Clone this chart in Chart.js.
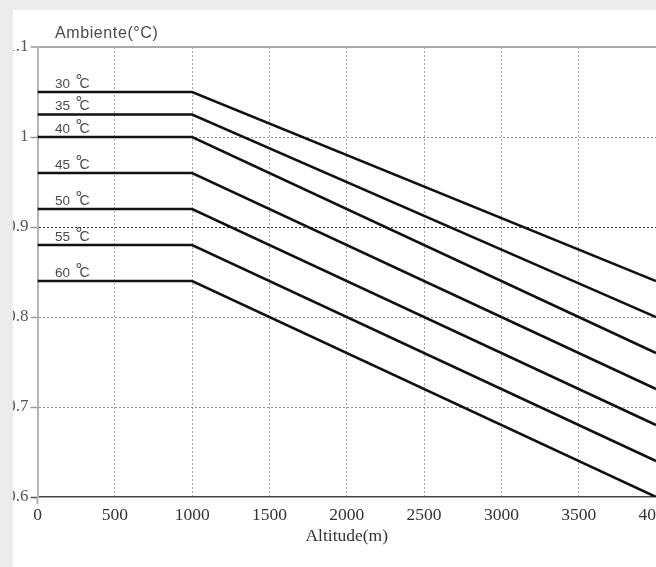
<!DOCTYPE html>
<html>
<head>
<meta charset="utf-8">
<script src="https://cdn.jsdelivr.net/npm/chart.js@4/dist/chart.umd.min.js"></script>
<style>
  html, body { margin: 0; padding: 0; width: 656px; height: 567px; overflow: hidden; background: #eaebea; }
  #panel { position: absolute; left: 13px; top: 10px; width: 643px; height: 557px; background: #ffffff; overflow: hidden; }
  #wrap { position: absolute; left: -13px; top: -10px; width: 720px; height: 567px; }
</style>
</head>
<body>
<div id="panel"><div id="wrap"><canvas id="c" width="720" height="567"></canvas></div></div>
<script>
// Derating factor vs. altitude, one curve per ambient temperature
const altitudes = [0, 1000, 4000];
const temperatures = ['30', '35', '40', '45', '50', '55', '60'];
const factor30 = [1.05, 1.05, 0.84];
const factor35 = [1.025, 1.025, 0.80];
const factor40 = [1.00, 1.00, 0.76];
const factor45 = [0.96, 0.96, 0.72];
const factor50 = [0.92, 0.92, 0.68];
const factor55 = [0.88, 0.88, 0.64];
const factor60 = [0.84, 0.84, 0.60];
const xTickValues = [0, 500, 1000, 1500, 2000, 2500, 3000, 3500, 4000];
const yTickValues = [0.6, 0.7, 0.8, 0.9, 1.0, 1.1];

const seriesValues = [factor30, factor35, factor40, factor45, factor50, factor55, factor60];

const datasets = seriesValues.map((vals, i) => ({
  label: temperatures[i] + ' °C',
  data: altitudes.map((a, j) => ({ x: a, y: vals[j] })),
  borderColor: '#111111',
  borderWidth: 2.5,
  pointRadius: 0,
  tension: 0,
  fill: false
}));

const sans = '"Liberation Sans", Arial, sans-serif';
const serif = '"Liberation Serif", "Times New Roman", serif';

// Temperature tags above each curve and the unit caption on top
const tempLabels = {
  id: 'tempLabels',
  afterDatasetsDraw(chart) {
    const { ctx, scales: { x, y } } = chart;
    ctx.save();
    ctx.fillStyle = '#4a4a4a';
    ctx.textAlign = 'left';
    ctx.textBaseline = 'alphabetic';
    ctx.font = '16px ' + sans;
    ctx.letterSpacing = '0.6px';
    ctx.fillText('Ambiente(°C)', 55, 38);
    ctx.letterSpacing = '0px';
    chart.data.datasets.forEach((ds, i) => {
      const base = y.getPixelForValue(ds.data[0].y) - 4.5;
      const xs = x.getPixelForValue(0) + 17.5;
      ctx.font = '13.5px ' + sans;
      ctx.fillText(temperatures[i], xs, base);
      const w = ctx.measureText(temperatures[i]).width;
      ctx.font = '17px ' + sans;
      ctx.fillText('°', xs + w + 5.5, base - 2);
      ctx.font = '14px ' + sans;
      ctx.fillText('C', xs + w + 9.5, base);
    });
    ctx.restore();
  }
};

const tenth = v => Math.round(v * 10);

new Chart(document.getElementById('c'), {
  type: 'line',
  data: { datasets },
  options: {
    responsive: false,
    animation: false,
    layout: { padding: { left: 0, top: 47, right: 64, bottom: 0 } },
    plugins: { legend: { display: false }, tooltip: { enabled: false } },
    scales: {
      x: {
        type: 'linear',
        min: 0,
        max: 4000,
        afterBuildTicks: s => { s.ticks = xTickValues.map(v => ({ value: v })); },
        afterFit: s => { s.height = 70; },
        ticks: {
          padding: 1,
          color: '#333333',
          font: { family: serif, size: 17.5 },
          maxRotation: 0,
          callback: v => String(v)
        },
        grid: {
          color: c => (c.tick && c.tick.value === 0) ? 'rgba(0,0,0,0)' : '#a2a2a2',
          lineWidth: 1,
          drawTicks: true,
          tickLength: 7,
          tickWidth: 2,
          tickColor: c => (c.tick && c.tick.value === 0) ? '#b4b4b4' : 'rgba(0,0,0,0)'
        },
        border: { display: true, color: '#444444', width: 1.5, dash: [2, 2] },
        title: {
          display: true,
          text: 'Altitude(m)',
          color: '#333333',
          font: { family: serif, size: 17.5 },
          padding: { top: 0, bottom: 20 }
        }
      },
      y: {
        min: 0.6,
        max: 1.1,
        afterBuildTicks: s => { s.ticks = yTickValues.map(v => ({ value: v })); },
        afterFit: s => { s.width = 37.5; },
        ticks: {
          padding: 2,
          color: '#555555',
          font: { family: serif, size: 17 },
          callback: v => String(Number(v.toFixed(1)))
        },
        grid: {
          color: c => {
            if (!c.tick) return '#a0a0a0';
            const t = tenth(c.tick.value);
            if (t === 11) return '#a8a8a8';
            if (t === 6) return 'rgba(0,0,0,0)';
            if (t === 9) return '#333333';
            return '#8e8e8e';
          },
          lineWidth: c => (c.tick && tenth(c.tick.value) === 11) ? 2 : 1,
          drawTicks: true,
          tickLength: 7,
          tickWidth: 1.5,
          tickColor: c => (c.tick && tenth(c.tick.value) === 6) ? '#555555' : '#999999',
          tickBorderDash: []
        },
        border: {
          display: true,
          color: '#b4b4b4',
          width: 2,
          dash: c => (c.tick && tenth(c.tick.value) === 11) ? [] : [2, 2]
        }
      }
    }
  },
  plugins: [tempLabels]
});
</script>
</body>
</html>
